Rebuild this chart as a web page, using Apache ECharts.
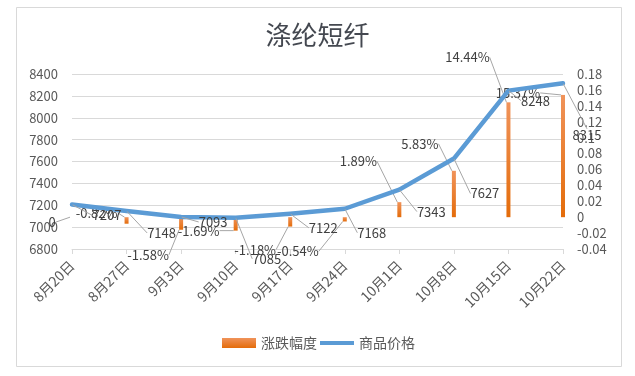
<!DOCTYPE html>
<html><head><meta charset="utf-8">
<script src="https://cdn.jsdelivr.net/npm/echarts@6/dist/echarts.min.js"></script>
<style>html,body{margin:0;padding:0;background:#fff}#c{width:635px;height:376px}</style>
</head><body><div id="c"></div>
<script>
const categories = ['8月20日','8月27日','9月3日','9月10日','9月17日','9月24日','10月1日','10月8日','10月15日','10月22日'];
const prices = [7207, 7148, 7093, 7085, 7122, 7168, 7343, 7627, 8248, 8315];
const changes = [0, -0.0082, -0.0158, -0.0169, -0.0118, -0.0054, 0.0189, 0.0583, 0.1444, 0.1537];
const leftAxisMin = 6800, leftAxisMax = 8400, leftAxisStep = 200;
const rightAxisMin = -0.04, rightAxisMax = 0.18, rightAxisStep = 0.02;
const title = '涤纶短纤';
const seriesNames = ['涨跌幅度', '商品价格'];

// label offsets (px) from each mark's anchor point, as placed in the reference
const priceLabelOffsets = [[35,11],[35,22],[32,5],[31,41],[33,14],[27,24],[32,22],[31,35],[27,10],[24,52]];
const changeLabelOffsets = [[-20,5],[-30,-11],[-33,25],[-37,0],[-35,23],[-47,30],[-41,-41],[-34,-27],[-41,-45],[-45,-2]];

const FONT = '"Noto Sans CJK SC", "Noto Sans", sans-serif';
const chart = echarts.init(document.getElementById('c'), null, {renderer: 'canvas'});

function fmtPct(v) { return v === 0 ? '0' : (v * 100).toFixed(2) + '%'; }

chart.setOption({
  animation: false,
  backgroundColor: '#fff',
  title: {
    text: title, left: 'center', top: 17,
    textStyle: {fontFamily: FONT, fontSize: 26, fontWeight: 'normal', color: '#444850'}
  },
  graphic: [{
    type: 'rect', shape: {x: 16.5, y: 7.5, width: 605, height: 359},
    style: {fill: 'none', stroke: '#D9D9D9', lineWidth: 1}, silent: true, z: -1
  }],
  legend: {
    left: 217, top: 331, itemWidth: 34, itemHeight: 10, itemGap: 3,
    textStyle: {fontFamily: FONT, fontSize: 14, color: '#595959'},
    data: [
      {name: seriesNames[0], icon: 'rect'},
      {name: seriesNames[1], icon: 'path://M0,0 L34,0 L34,4 L0,4 Z'}
    ]
  },
  grid: {left: 72, right: 72, top: 74, bottom: 127, containLabel: false},
  xAxis: {
    type: 'category', data: categories, boundaryGap: false,
    axisLine: {onZero: false, lineStyle: {color: '#D9D9D9'}},
    axisTick: {show: true, length: 5, lineStyle: {color: '#D9D9D9'}},
    axisLabel: {rotate: 45, margin: 14, fontFamily: FONT, fontSize: 14, color: '#595959', interval: 0}
  },
  yAxis: [{
    type: 'value', min: leftAxisMin, max: leftAxisMax, interval: leftAxisStep,
    axisLine: {show: false}, axisTick: {show: false},
    axisLabel: {margin: 14, fontFamily: FONT, fontSize: 13, color: '#595959', formatter: v => String(v)},
    splitLine: {lineStyle: {color: '#D9D9D9'}}
  }, {
    type: 'value', min: rightAxisMin, max: rightAxisMax, interval: rightAxisStep,
    axisLine: {show: false}, axisTick: {show: false},
    axisLabel: {margin: 14, fontFamily: FONT, fontSize: 13, color: '#595959'},
    splitLine: {show: false}
  }],
  series: [{
    name: seriesNames[0], type: 'bar', yAxisIndex: 1, data: changes, barWidth: 4,
    itemStyle: {color: new echarts.graphic.LinearGradient(0, 0, 0, 1, [
      {offset: 0, color: '#F0935A'}, {offset: 1, color: '#E46C0A'}])},
    label: {show: true, position: 'top', formatter: p => fmtPct(p.value),
      fontFamily: FONT, fontSize: 13, color: '#404040'},
    labelLine: {show: true, lineStyle: {color: '#A6A6A6', width: 1}},
    labelLayout: function (p) {
      const r = p.rect, o = changeLabelOffsets[p.dataIndex];
      const v = changes[p.dataIndex];
      const ax = r.x + r.width / 2;
      const ay = v >= 0 ? Math.min(r.y, r.y + r.height) : Math.max(r.y, r.y + r.height);
      return {x: ax + o[0], y: ay + o[1], align: 'center', verticalAlign: 'middle'};
    },
    z: 2
  }, {
    name: seriesNames[1], type: 'line', yAxisIndex: 0, data: prices,
    symbol: 'circle', symbolSize: 1, showSymbol: true,
    lineStyle: {color: '#5B9BD5', width: 4.5, cap: 'round', join: 'round'},
    itemStyle: {color: '#5B9BD5'},
    label: {show: true, position: 'top', fontFamily: FONT, fontSize: 13, color: '#404040'},
    labelLine: {show: true, lineStyle: {color: '#A6A6A6', width: 1}},
    labelLayout: function (p) {
      const r = p.rect, o = priceLabelOffsets[p.dataIndex];
      const ax = r.x + r.width / 2, ay = r.y + r.height / 2;
      return {x: ax + o[0], y: ay + o[1], align: 'center', verticalAlign: 'middle'};
    },
    z: 3
  }]
});
</script></body></html>
